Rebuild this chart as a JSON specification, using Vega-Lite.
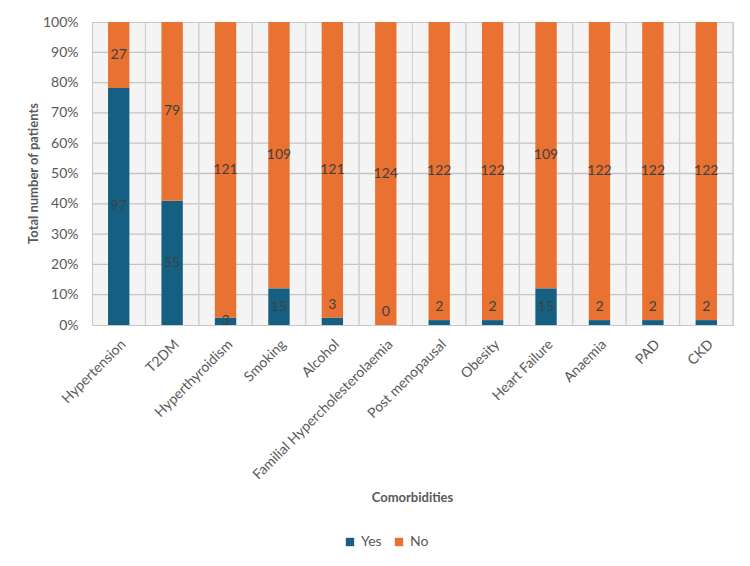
{
  "$schema": "https://vega.github.io/schema/vega-lite/v6.json",
  "autosize": {"type": "none"},
  "padding": {"left": 92, "top": 22, "right": 17, "bottom": 241},
  "width": 641,
  "height": 303,
  "background": "white",
  "datasets": {
    "gridY": [
      {"tick": 0.1}, {"tick": 0.2}, {"tick": 0.3}, {"tick": 0.4}, {"tick": 0.5},
      {"tick": 0.6}, {"tick": 0.7}, {"tick": 0.8}, {"tick": 0.9}
    ],
    "patients": [
      {"Comorbidity": "Hypertension", "Response": "Yes", "Patients": 97},
      {"Comorbidity": "Hypertension", "Response": "No", "Patients": 27},
      {"Comorbidity": "T2DM", "Response": "Yes", "Patients": 55},
      {"Comorbidity": "T2DM", "Response": "No", "Patients": 79},
      {"Comorbidity": "Hyperthyroidism", "Response": "Yes", "Patients": 3},
      {"Comorbidity": "Hyperthyroidism", "Response": "No", "Patients": 121},
      {"Comorbidity": "Smoking", "Response": "Yes", "Patients": 15},
      {"Comorbidity": "Smoking", "Response": "No", "Patients": 109},
      {"Comorbidity": "Alcohol", "Response": "Yes", "Patients": 3},
      {"Comorbidity": "Alcohol", "Response": "No", "Patients": 121},
      {"Comorbidity": "Familial Hypercholesterolaemia", "Response": "Yes", "Patients": 0},
      {"Comorbidity": "Familial Hypercholesterolaemia", "Response": "No", "Patients": 124},
      {"Comorbidity": "Post menopausal", "Response": "Yes", "Patients": 2},
      {"Comorbidity": "Post menopausal", "Response": "No", "Patients": 122},
      {"Comorbidity": "Obesity", "Response": "Yes", "Patients": 2},
      {"Comorbidity": "Obesity", "Response": "No", "Patients": 122},
      {"Comorbidity": "Heart Failure", "Response": "Yes", "Patients": 15},
      {"Comorbidity": "Heart Failure", "Response": "No", "Patients": 109},
      {"Comorbidity": "Anaemia", "Response": "Yes", "Patients": 2},
      {"Comorbidity": "Anaemia", "Response": "No", "Patients": 122},
      {"Comorbidity": "PAD", "Response": "Yes", "Patients": 2},
      {"Comorbidity": "PAD", "Response": "No", "Patients": 122},
      {"Comorbidity": "CKD", "Response": "Yes", "Patients": 2},
      {"Comorbidity": "CKD", "Response": "No", "Patients": 122}
    ]
  },
  "layer": [
    {
      "data": {"name": "gridY"},
      "mark": {"type": "rule", "color": "#c4c4c4", "strokeWidth": 1.3},
      "encoding": {
        "y": {
          "field": "tick",
          "type": "quantitative",
          "scale": {"domain": [0, 1]},
          "axis": {
            "title": "Total number of patients",
            "format": ".0%",
            "values": [0, 0.1, 0.2, 0.3, 0.4, 0.5, 0.6, 0.7, 0.8, 0.9, 1],
            "labelOverlap": false,
            "labelFlush": false,
            "labelFontSize": 14,
            "ticks": false,
            "domain": false,
            "grid": false,
            "labelPadding": 14,
            "titleX": -59,
            "titleY": 151,
            "titleBaseline": "middle"
          }
        }
      }
    },
    {
      "data": {"name": "patients"},
      "encoding": {
        "x": {
          "field": "Comorbidity",
          "type": "nominal",
          "sort": null,
          "scale": {"paddingInner": 0.6, "paddingOuter": 0.3},
          "axis": {
            "title": "Comorbidities",
            "labelAngle": -45,
            "labelAlign": "right",
            "labelBaseline": "top",
            "labelPadding": 12,
            "labelFontSize": 14,
            "labelLimit": 400,
            "ticks": false,
            "grid": false,
            "domainColor": "#c8c8c8",
            "titleX": 320,
            "titleY": 172,
            "titleBaseline": "middle"
          }
        },
        "order": {"field": "Response", "sort": "descending"}
      },
      "layer": [
        {
          "mark": {"type": "rule", "color": "#cfcfcf", "strokeWidth": 1},
          "encoding": {
            "x": {
              "field": "Comorbidity",
              "type": "nominal",
              "sort": null,
              "bandPosition": 1.75,
              "scale": {"paddingInner": 0.6, "paddingOuter": 0.3},
              "axis": {
                "title": "Comorbidities",
                "labelAngle": -45,
                "labelAlign": "right",
                "labelBaseline": "top",
                "labelPadding": 12,
                "labelFontSize": 14,
                "labelLimit": 400,
                "ticks": false,
                "grid": false,
                "domainColor": "#c8c8c8",
                "titleX": 320,
                "titleY": 172,
                "titleBaseline": "middle"
              }
            }
          }
        },
        {
          "mark": {"type": "bar"},
          "encoding": {
            "y": {
              "field": "Patients",
              "type": "quantitative",
              "stack": "normalize",
              "scale": {"domain": [0, 1]},
              "axis": {
                "title": "Total number of patients",
                "format": ".0%",
                "values": [0, 0.1, 0.2, 0.3, 0.4, 0.5, 0.6, 0.7, 0.8, 0.9, 1],
                "labelOverlap": false,
                "labelFlush": false,
                "labelFontSize": 14,
                "ticks": false,
                "domain": false,
                "grid": false,
                "labelPadding": 14,
                "titleX": -59,
                "titleY": 151,
                "titleBaseline": "middle"
              }
            },
            "color": {
              "field": "Response",
              "type": "nominal",
              "scale": {"domain": ["Yes", "No"], "range": ["#156082", "#E97132"]},
              "legend": {
                "title": null,
                "orient": "none",
                "direction": "horizontal",
                "legendX": 251,
                "legendY": 513,
                "symbolType": "square",
                "symbolSize": 70,
                "symbolStrokeWidth": 0,
                "labelOffset": 4,
                "labelFontSize": 14,
                "columnPadding": 10
              }
            }
          }
        },
        {
          "mark": {"type": "text", "fontSize": 14, "color": "#404040", "baseline": "middle"},
          "encoding": {
            "y": {
              "field": "Patients",
              "type": "quantitative",
              "stack": "normalize",
              "bandPosition": 0.5,
              "axis": {
                "title": "Total number of patients",
                "format": ".0%",
                "values": [0, 0.1, 0.2, 0.3, 0.4, 0.5, 0.6, 0.7, 0.8, 0.9, 1],
                "labelOverlap": false,
                "labelFlush": false,
                "labelFontSize": 14,
                "ticks": false,
                "domain": false,
                "grid": false,
                "labelPadding": 14,
                "titleX": -59,
                "titleY": 151,
                "titleBaseline": "middle"
              }
            },
            "text": {"field": "Patients", "type": "quantitative"},
            "opacity": {
              "condition": {"test": "datum.Response === 'Yes' && datum.Patients < 10 && datum.Comorbidity !== 'Hyperthyroidism'", "value": 0},
              "value": 1
            }
          }
        },
        {
          "mark": {"type": "text", "fontSize": 14, "color": "#404040", "baseline": "middle", "dy": -13},
          "encoding": {
            "y": {
              "field": "Patients",
              "type": "quantitative",
              "stack": "normalize",
              "axis": {
                "title": "Total number of patients",
                "format": ".0%",
                "values": [0, 0.1, 0.2, 0.3, 0.4, 0.5, 0.6, 0.7, 0.8, 0.9, 1],
                "labelOverlap": false,
                "labelFlush": false,
                "labelFontSize": 14,
                "ticks": false,
                "domain": false,
                "grid": false,
                "labelPadding": 14,
                "titleX": -59,
                "titleY": 151,
                "titleBaseline": "middle"
              }
            },
            "text": {"field": "Patients", "type": "quantitative"},
            "opacity": {
              "condition": {"test": "datum.Response === 'Yes' && datum.Patients < 10 && datum.Comorbidity !== 'Hyperthyroidism'", "value": 1},
              "value": 0
            }
          }
        }
      ]
    }
  ],
  "config": {
    "font": "Lato",
    "view": {"fill": "#f4f4f4", "stroke": "#c8c8c8"},
    "axis": {
      "labelFont": "Lato",
      "labelFontSize": 13,
      "labelColor": "#595959",
      "titleFont": "Lato",
      "titleFontSize": 13,
      "titleFontWeight": "bold",
      "titleColor": "#595959"
    },
    "legend": {
      "labelFont": "Lato",
      "labelFontSize": 13,
      "labelColor": "#595959"
    }
  }
}
